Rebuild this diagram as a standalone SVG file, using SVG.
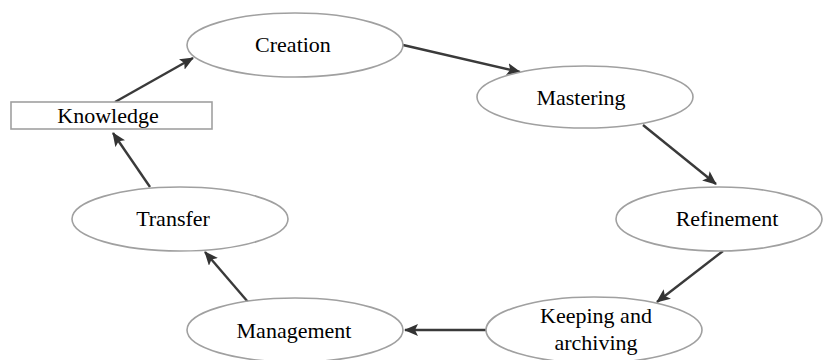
<svg xmlns="http://www.w3.org/2000/svg" width="823" height="360" viewBox="0 0 823 360">
<defs>
<marker id="ah" viewBox="0 0 14 12" refX="13" refY="6" markerWidth="14" markerHeight="12" markerUnits="userSpaceOnUse" orient="auto">
<path d="M0,0 L14,6 L0,12 L3,6 Z" fill="#333"/>
</marker>
<style>
.n{fill:#fff;stroke:#a0a0a0;stroke-width:1.6}
.t{font-family:"Liberation Serif","Times New Roman",serif;font-size:22px;fill:#000;text-anchor:middle}
.c{stroke:#3a3a3a;stroke-width:2.4;fill:none;marker-end:url(#ah)}
</style>
</defs>
<rect width="823" height="360" fill="#fff"/>
<g id="connectors">
<line class="c" x1="115" y1="102" x2="193" y2="58"/>
<line class="c" x1="403" y1="45" x2="520" y2="72"/>
<line class="c" x1="643" y1="125" x2="716" y2="184"/>
<line class="c" x1="723" y1="251" x2="657" y2="302"/>
<line class="c" x1="486" y1="330" x2="405" y2="330"/>
<line class="c" x1="248" y1="302" x2="205" y2="252"/>
<line class="c" x1="150" y1="187" x2="113" y2="133"/>
</g>
<g id="knowledge">
<rect class="n" x="11" y="102" width="201" height="27"/>
<text class="t" x="108" y="123">Knowledge</text>
</g>
<g id="creation">
<ellipse class="n" cx="295" cy="45" rx="108" ry="32"/>
<text class="t" x="293" y="52">Creation</text>
</g>
<g id="mastering">
<ellipse class="n" cx="585" cy="97" rx="108" ry="31"/>
<text class="t" x="581" y="105">Mastering</text>
</g>
<g id="refinement">
<ellipse class="n" cx="719" cy="219" rx="103" ry="32"/>
<text class="t" x="727" y="226">Refinement</text>
</g>
<g id="keeping">
<ellipse class="n" cx="594" cy="330" rx="108" ry="33"/>
<text class="t" x="596" y="323">Keeping and</text>
<text class="t" x="596" y="350">archiving</text>
</g>
<g id="management">
<ellipse class="n" cx="295" cy="330" rx="108" ry="32"/>
<text class="t" x="294" y="338">Management</text>
</g>
<g id="transfer">
<ellipse class="n" cx="180" cy="219" rx="108" ry="32"/>
<text class="t" x="173" y="226">Transfer</text>
</g>
</svg>
